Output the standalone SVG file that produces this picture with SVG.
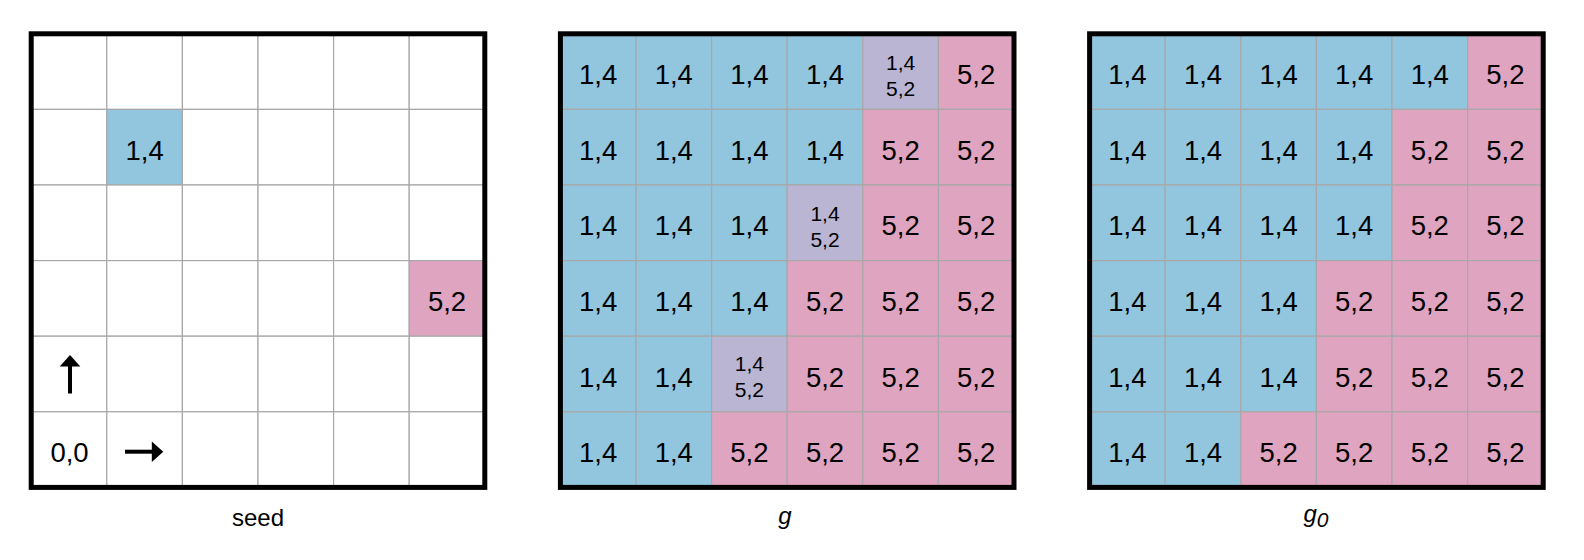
<svg xmlns="http://www.w3.org/2000/svg" width="1584" height="560" viewBox="0 0 1584 560">
<style>
.c{stroke:#a8a8a8;stroke-width:1.2}
.w{fill:#ffffff}
.b{fill:#92c5de}
.k{fill:#dfa4bf}
.p{fill:#b9b5d2}
.t{font-family:"Liberation Sans",Arial,sans-serif;font-size:27.5px;fill:#000;text-anchor:middle}
.s{font-family:"Liberation Sans",Arial,sans-serif;font-size:21px;fill:#000;text-anchor:middle}
.lab{font-family:"Liberation Sans",Arial,sans-serif;font-size:24px;fill:#000;text-anchor:middle}
.it{font-style:italic}
.border{fill:none;stroke:#000;stroke-width:5}
</style>
<rect width="1584" height="560" fill="#fff"/>

<!-- Grid 1: seed -->
<g id="grid-seed">
<g id="seed-cells">
<rect class="c w" x="31.2" y="33.8" width="75.6" height="75.6"/><rect class="c w" x="106.8" y="33.8" width="75.6" height="75.6"/><rect class="c w" x="182.4" y="33.8" width="75.6" height="75.6"/><rect class="c w" x="258" y="33.8" width="75.6" height="75.6"/><rect class="c w" x="333.6" y="33.8" width="75.6" height="75.6"/><rect class="c w" x="409.2" y="33.8" width="75.6" height="75.6"/>
<rect class="c w" x="31.2" y="109.4" width="75.6" height="75.6"/><rect class="c b" x="106.8" y="109.4" width="75.6" height="75.6"/><rect class="c w" x="182.4" y="109.4" width="75.6" height="75.6"/><rect class="c w" x="258" y="109.4" width="75.6" height="75.6"/><rect class="c w" x="333.6" y="109.4" width="75.6" height="75.6"/><rect class="c w" x="409.2" y="109.4" width="75.6" height="75.6"/>
<rect class="c w" x="31.2" y="185" width="75.6" height="75.6"/><rect class="c w" x="106.8" y="185" width="75.6" height="75.6"/><rect class="c w" x="182.4" y="185" width="75.6" height="75.6"/><rect class="c w" x="258" y="185" width="75.6" height="75.6"/><rect class="c w" x="333.6" y="185" width="75.6" height="75.6"/><rect class="c w" x="409.2" y="185" width="75.6" height="75.6"/>
<rect class="c w" x="31.2" y="260.6" width="75.6" height="75.6"/><rect class="c w" x="106.8" y="260.6" width="75.6" height="75.6"/><rect class="c w" x="182.4" y="260.6" width="75.6" height="75.6"/><rect class="c w" x="258" y="260.6" width="75.6" height="75.6"/><rect class="c w" x="333.6" y="260.6" width="75.6" height="75.6"/><rect class="c k" x="409.2" y="260.6" width="75.6" height="75.6"/>
<rect class="c w" x="31.2" y="336.2" width="75.6" height="75.6"/><rect class="c w" x="106.8" y="336.2" width="75.6" height="75.6"/><rect class="c w" x="182.4" y="336.2" width="75.6" height="75.6"/><rect class="c w" x="258" y="336.2" width="75.6" height="75.6"/><rect class="c w" x="333.6" y="336.2" width="75.6" height="75.6"/><rect class="c w" x="409.2" y="336.2" width="75.6" height="75.6"/>
<rect class="c w" x="31.2" y="411.8" width="75.6" height="75.6"/><rect class="c w" x="106.8" y="411.8" width="75.6" height="75.6"/><rect class="c w" x="182.4" y="411.8" width="75.6" height="75.6"/><rect class="c w" x="258" y="411.8" width="75.6" height="75.6"/><rect class="c w" x="333.6" y="411.8" width="75.6" height="75.6"/><rect class="c w" x="409.2" y="411.8" width="75.6" height="75.6"/>
</g>
<text class="t" x="144.6" y="159.5">1,4</text>
<text class="t" x="447" y="311">5,2</text>
<text class="t" x="69.5" y="462">0,0</text>
<g id="seed-arrows">
<rect x="68" y="364" width="4" height="29.5" fill="#000"/>
<polygon points="70,355 80.3,366.5 59.7,366.5" fill="#000"/>
<rect x="125" y="449.7" width="28" height="4" fill="#000"/>
<polygon points="163.3,451.7 151.8,441.5 151.8,461.9" fill="#000"/>
</g>
<rect class="border" x="31.2" y="33.8" width="453.6" height="453.6"/>
<text class="lab" x="258" y="526">seed</text>
</g>

<!-- Grid 2: g -->
<g id="grid-g">
<g id="g-cells">
<rect class="c b" x="560.4" y="33.8" width="75.6" height="75.6"/><rect class="c b" x="636" y="33.8" width="75.6" height="75.6"/><rect class="c b" x="711.6" y="33.8" width="75.6" height="75.6"/><rect class="c b" x="787.2" y="33.8" width="75.6" height="75.6"/><rect class="c p" x="862.8" y="33.8" width="75.6" height="75.6"/><rect class="c k" x="938.4" y="33.8" width="75.6" height="75.6"/>
<rect class="c b" x="560.4" y="109.4" width="75.6" height="75.6"/><rect class="c b" x="636" y="109.4" width="75.6" height="75.6"/><rect class="c b" x="711.6" y="109.4" width="75.6" height="75.6"/><rect class="c b" x="787.2" y="109.4" width="75.6" height="75.6"/><rect class="c k" x="862.8" y="109.4" width="75.6" height="75.6"/><rect class="c k" x="938.4" y="109.4" width="75.6" height="75.6"/>
<rect class="c b" x="560.4" y="185" width="75.6" height="75.6"/><rect class="c b" x="636" y="185" width="75.6" height="75.6"/><rect class="c b" x="711.6" y="185" width="75.6" height="75.6"/><rect class="c p" x="787.2" y="185" width="75.6" height="75.6"/><rect class="c k" x="862.8" y="185" width="75.6" height="75.6"/><rect class="c k" x="938.4" y="185" width="75.6" height="75.6"/>
<rect class="c b" x="560.4" y="260.6" width="75.6" height="75.6"/><rect class="c b" x="636" y="260.6" width="75.6" height="75.6"/><rect class="c b" x="711.6" y="260.6" width="75.6" height="75.6"/><rect class="c k" x="787.2" y="260.6" width="75.6" height="75.6"/><rect class="c k" x="862.8" y="260.6" width="75.6" height="75.6"/><rect class="c k" x="938.4" y="260.6" width="75.6" height="75.6"/>
<rect class="c b" x="560.4" y="336.2" width="75.6" height="75.6"/><rect class="c b" x="636" y="336.2" width="75.6" height="75.6"/><rect class="c p" x="711.6" y="336.2" width="75.6" height="75.6"/><rect class="c k" x="787.2" y="336.2" width="75.6" height="75.6"/><rect class="c k" x="862.8" y="336.2" width="75.6" height="75.6"/><rect class="c k" x="938.4" y="336.2" width="75.6" height="75.6"/>
<rect class="c b" x="560.4" y="411.8" width="75.6" height="75.6"/><rect class="c b" x="636" y="411.8" width="75.6" height="75.6"/><rect class="c k" x="711.6" y="411.8" width="75.6" height="75.6"/><rect class="c k" x="787.2" y="411.8" width="75.6" height="75.6"/><rect class="c k" x="862.8" y="411.8" width="75.6" height="75.6"/><rect class="c k" x="938.4" y="411.8" width="75.6" height="75.6"/>
</g>
<g id="g-text">
<text class="t" x="598.2" y="84">1,4</text><text class="t" x="673.8" y="84">1,4</text><text class="t" x="749.4" y="84">1,4</text><text class="t" x="825" y="84">1,4</text><text class="s" x="900.6" y="69.8">1,4</text><text class="s" x="900.6" y="96">5,2</text><text class="t" x="976.2" y="84">5,2</text>
<text class="t" x="598.2" y="159.5">1,4</text><text class="t" x="673.8" y="159.5">1,4</text><text class="t" x="749.4" y="159.5">1,4</text><text class="t" x="825" y="159.5">1,4</text><text class="t" x="900.6" y="159.5">5,2</text><text class="t" x="976.2" y="159.5">5,2</text>
<text class="t" x="598.2" y="235">1,4</text><text class="t" x="673.8" y="235">1,4</text><text class="t" x="749.4" y="235">1,4</text><text class="s" x="825" y="220.8">1,4</text><text class="s" x="825" y="247">5,2</text><text class="t" x="900.6" y="235">5,2</text><text class="t" x="976.2" y="235">5,2</text>
<text class="t" x="598.2" y="311">1,4</text><text class="t" x="673.8" y="311">1,4</text><text class="t" x="749.4" y="311">1,4</text><text class="t" x="825" y="311">5,2</text><text class="t" x="900.6" y="311">5,2</text><text class="t" x="976.2" y="311">5,2</text>
<text class="t" x="598.2" y="386.5">1,4</text><text class="t" x="673.8" y="386.5">1,4</text><text class="s" x="749.4" y="371">1,4</text><text class="s" x="749.4" y="397">5,2</text><text class="t" x="825" y="386.5">5,2</text><text class="t" x="900.6" y="386.5">5,2</text><text class="t" x="976.2" y="386.5">5,2</text>
<text class="t" x="598.2" y="462">1,4</text><text class="t" x="673.8" y="462">1,4</text><text class="t" x="749.4" y="462">5,2</text><text class="t" x="825" y="462">5,2</text><text class="t" x="900.6" y="462">5,2</text><text class="t" x="976.2" y="462">5,2</text>
</g>
<rect class="border" x="560.4" y="33.8" width="453.6" height="453.6"/>
<text class="lab it" x="785" y="524">g</text>
</g>

<!-- Grid 3: g0 -->
<g id="grid-g0">
<g id="g0-cells">
<rect class="c b" x="1089.6" y="33.8" width="75.6" height="75.6"/><rect class="c b" x="1165.2" y="33.8" width="75.6" height="75.6"/><rect class="c b" x="1240.8" y="33.8" width="75.6" height="75.6"/><rect class="c b" x="1316.4" y="33.8" width="75.6" height="75.6"/><rect class="c b" x="1392" y="33.8" width="75.6" height="75.6"/><rect class="c k" x="1467.6" y="33.8" width="75.6" height="75.6"/>
<rect class="c b" x="1089.6" y="109.4" width="75.6" height="75.6"/><rect class="c b" x="1165.2" y="109.4" width="75.6" height="75.6"/><rect class="c b" x="1240.8" y="109.4" width="75.6" height="75.6"/><rect class="c b" x="1316.4" y="109.4" width="75.6" height="75.6"/><rect class="c k" x="1392" y="109.4" width="75.6" height="75.6"/><rect class="c k" x="1467.6" y="109.4" width="75.6" height="75.6"/>
<rect class="c b" x="1089.6" y="185" width="75.6" height="75.6"/><rect class="c b" x="1165.2" y="185" width="75.6" height="75.6"/><rect class="c b" x="1240.8" y="185" width="75.6" height="75.6"/><rect class="c b" x="1316.4" y="185" width="75.6" height="75.6"/><rect class="c k" x="1392" y="185" width="75.6" height="75.6"/><rect class="c k" x="1467.6" y="185" width="75.6" height="75.6"/>
<rect class="c b" x="1089.6" y="260.6" width="75.6" height="75.6"/><rect class="c b" x="1165.2" y="260.6" width="75.6" height="75.6"/><rect class="c b" x="1240.8" y="260.6" width="75.6" height="75.6"/><rect class="c k" x="1316.4" y="260.6" width="75.6" height="75.6"/><rect class="c k" x="1392" y="260.6" width="75.6" height="75.6"/><rect class="c k" x="1467.6" y="260.6" width="75.6" height="75.6"/>
<rect class="c b" x="1089.6" y="336.2" width="75.6" height="75.6"/><rect class="c b" x="1165.2" y="336.2" width="75.6" height="75.6"/><rect class="c b" x="1240.8" y="336.2" width="75.6" height="75.6"/><rect class="c k" x="1316.4" y="336.2" width="75.6" height="75.6"/><rect class="c k" x="1392" y="336.2" width="75.6" height="75.6"/><rect class="c k" x="1467.6" y="336.2" width="75.6" height="75.6"/>
<rect class="c b" x="1089.6" y="411.8" width="75.6" height="75.6"/><rect class="c b" x="1165.2" y="411.8" width="75.6" height="75.6"/><rect class="c k" x="1240.8" y="411.8" width="75.6" height="75.6"/><rect class="c k" x="1316.4" y="411.8" width="75.6" height="75.6"/><rect class="c k" x="1392" y="411.8" width="75.6" height="75.6"/><rect class="c k" x="1467.6" y="411.8" width="75.6" height="75.6"/>
</g>
<g id="g0-text">
<text class="t" x="1127.4" y="84">1,4</text><text class="t" x="1203" y="84">1,4</text><text class="t" x="1278.6" y="84">1,4</text><text class="t" x="1354.2" y="84">1,4</text><text class="t" x="1429.8" y="84">1,4</text><text class="t" x="1505.4" y="84">5,2</text>
<text class="t" x="1127.4" y="159.5">1,4</text><text class="t" x="1203" y="159.5">1,4</text><text class="t" x="1278.6" y="159.5">1,4</text><text class="t" x="1354.2" y="159.5">1,4</text><text class="t" x="1429.8" y="159.5">5,2</text><text class="t" x="1505.4" y="159.5">5,2</text>
<text class="t" x="1127.4" y="235">1,4</text><text class="t" x="1203" y="235">1,4</text><text class="t" x="1278.6" y="235">1,4</text><text class="t" x="1354.2" y="235">1,4</text><text class="t" x="1429.8" y="235">5,2</text><text class="t" x="1505.4" y="235">5,2</text>
<text class="t" x="1127.4" y="311">1,4</text><text class="t" x="1203" y="311">1,4</text><text class="t" x="1278.6" y="311">1,4</text><text class="t" x="1354.2" y="311">5,2</text><text class="t" x="1429.8" y="311">5,2</text><text class="t" x="1505.4" y="311">5,2</text>
<text class="t" x="1127.4" y="386.5">1,4</text><text class="t" x="1203" y="386.5">1,4</text><text class="t" x="1278.6" y="386.5">1,4</text><text class="t" x="1354.2" y="386.5">5,2</text><text class="t" x="1429.8" y="386.5">5,2</text><text class="t" x="1505.4" y="386.5">5,2</text>
<text class="t" x="1127.4" y="462">1,4</text><text class="t" x="1203" y="462">1,4</text><text class="t" x="1278.6" y="462">5,2</text><text class="t" x="1354.2" y="462">5,2</text><text class="t" x="1429.8" y="462">5,2</text><text class="t" x="1505.4" y="462">5,2</text>
</g>
<rect class="border" x="1089.6" y="33.8" width="453.6" height="453.6"/>
<text class="lab it" x="1316" y="522">g<tspan font-size="21" dy="5">0</tspan></text>
</g>
</svg>
